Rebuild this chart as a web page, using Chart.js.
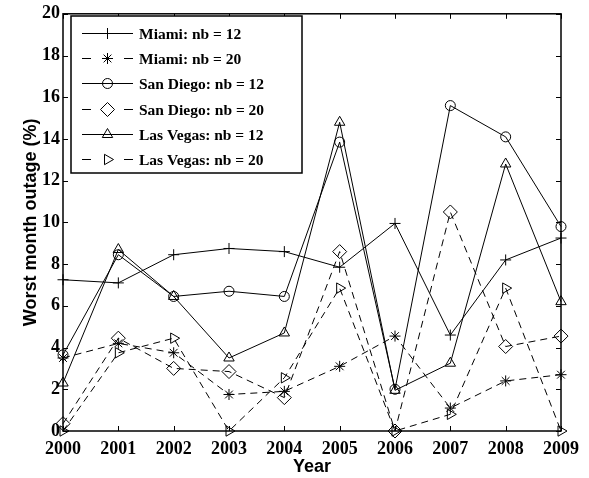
<!DOCTYPE html>
<html>
<head>
  <title>Worst month outage</title>
  <script src="https://cdn.jsdelivr.net/npm/chart.js"></script>
  <style>
    body { margin: 0; background: #fff; }
    #wrap { width: 589px; height: 478px; }
  </style>
</head>
<body>
<div id="wrap">
  <canvas id="outageChart" width="589" height="478"></canvas>
</div>

<script>
  // Data
  const years = ['2000', '2001', '2002', '2003', '2004', '2005', '2006', '2007', '2008', '2009'];
  const miami12 = [7.25, 7.1, 8.45, 8.75, 8.6, 7.85, 9.95, 4.6, 8.2, 9.25];
  const miami20 = [3.5, 4.2, 3.75, 1.75, 1.9, 3.1, 4.55, 1.1, 2.4, 2.7];
  const sanDiego12 = [3.65, 8.45, 6.45, 6.7, 6.45, 13.85, 2.0, 15.6, 14.1, 9.8];
  const sanDiego20 = [0.35, 4.45, 3.0, 2.85, 1.6, 8.6, 0, 10.5, 4.05, 4.55];
  const lasVegas12 = [2.3, 8.7, 6.45, 3.5, 4.7, 14.8, 1.95, 3.25, 12.8, 6.2];
  const lasVegas20 = [0, 3.75, 4.45, 0, 2.55, 6.85, 0, 0.8, 6.85, 0];
  const yTicks = [0, 2, 4, 6, 8, 10, 12, 14, 16, 18, 20];

  const serif = "'Liberation Serif', 'Times New Roman', serif";
  const sans = "'Liberation Sans', Arial, sans-serif";

  function series(label, data, style, radius, dashed, rotation) {
    return {
      label: label,
      data: data,
      borderColor: '#000',
      borderWidth: 1,
      borderDash: dashed ? [7, 5] : [],
      pointStyle: style,
      pointRotation: rotation || 0,
      pointRadius: radius,
      pointBorderColor: '#000',
      pointBackgroundColor: 'rgba(0,0,0,0)',
      pointBorderWidth: 1,
      fill: false,
      tension: 0,
      clip: false
    };
  }

  // inward ticks on all four sides + box, MATLAB style
  const boxPlugin = {
    id: 'boxTicks',
    afterDatasetsDraw(chart) {
      const ctx = chart.ctx;
      const a = chart.chartArea;
      const xs = chart.scales.x;
      const ys = chart.scales.y;
      const len = 5;
      ctx.save();
      ctx.strokeStyle = '#000';
      ctx.lineWidth = 1;
      ctx.beginPath();
      years.forEach((y, i) => {
        const px = Math.round(xs.getPixelForValue(i)) + 0.5;
        ctx.moveTo(px, a.bottom); ctx.lineTo(px, a.bottom - len);
        ctx.moveTo(px, a.top); ctx.lineTo(px, a.top + len);
      });
      yTicks.forEach(v => {
        const py = Math.round(ys.getPixelForValue(v)) + 0.5;
        ctx.moveTo(a.left, py); ctx.lineTo(a.left + len, py);
        ctx.moveTo(a.right, py); ctx.lineTo(a.right - len, py);
      });
      ctx.stroke();
      ctx.lineWidth = 1.5;
      ctx.strokeRect(a.left, a.top, a.right - a.left, a.bottom - a.top);
      ctx.restore();
    }
  };

  // boxed legend with line sample and marker
  const legendPlugin = {
    id: 'boxLegend',
    afterDraw(chart) {
      const ctx = chart.ctx;
      const sets = chart.data.datasets;
      const bx = 71, by = 16, bw = 231, bh = 157;
      ctx.save();
      ctx.fillStyle = '#fff';
      ctx.fillRect(bx, by, bw, bh);
      ctx.strokeStyle = '#000';
      ctx.lineWidth = 1.5;
      ctx.strokeRect(bx, by, bw, bh);
      ctx.font = 'bold 15.5px ' + serif;
      ctx.textBaseline = 'middle';
      sets.forEach((ds, i) => {
        const cy = Math.round(32.7 + 25.3 * i) + 0.5;
        const x0 = 82, x1 = 133, xm = (x0 + x1) / 2;
        ctx.strokeStyle = '#000';
        ctx.lineWidth = 1;
        ctx.beginPath();
        if (ds.borderDash.length) {
          ctx.moveTo(x0, cy); ctx.lineTo(x0 + 9, cy);
          ctx.moveTo(x1 - 9, cy); ctx.lineTo(x1, cy);
        } else {
          ctx.moveTo(x0, cy); ctx.lineTo(x1, cy);
        }
        ctx.stroke();
        ctx.fillStyle = 'rgba(0,0,0,0)';
        Chart.helpers.drawPoint(ctx, {
          pointStyle: ds.pointStyle,
          rotation: ds.pointRotation,
          radius: ds.pointRadius,
          borderWidth: 1
        }, xm, cy);
        ctx.fillStyle = '#000';
        ctx.fillText(ds.label, 139, cy + 1);
      });
      ctx.restore();
    }
  };

  const ctx = document.getElementById('outageChart').getContext('2d');
  new Chart(ctx, {
    type: 'line',
    data: {
      labels: years,
      datasets: [
        series('Miami: nb = 12', miami12, 'cross', 5.5, false),
        series('Miami: nb = 20', miami20, 'star', 5.5, true),
        series('San Diego: nb = 12', sanDiego12, 'circle', 5, false),
        series('San Diego: nb = 20', sanDiego20, 'rectRot', 7, true),
        series('Las Vegas: nb = 12', lasVegas12, 'triangle', 6, false),
        series('Las Vegas: nb = 20', lasVegas20, 'triangle', 6, true, 90)
      ]
    },
    options: {
      responsive: false,
      animation: false,
      devicePixelRatio: 1,
      layout: { padding: { left: 0, top: 13, right: 28, bottom: 0 } },
      plugins: {
        legend: { display: false },
        tooltip: { enabled: false }
      },
      scales: {
        x: {
          type: 'category',
          offset: false,
          grid: { display: false, drawTicks: false },
          border: { display: false },
          ticks: {
            color: '#000',
            padding: 8,
            maxRotation: 0,
            autoSkip: false,
            font: { family: serif, size: 18, weight: 'bold' }
          },
          title: {
            display: true,
            text: 'Year',
            color: '#000',
            padding: { top: 0, bottom: 0 },
            font: { family: sans, size: 18, weight: 'bold' }
          },
          afterFit(scale) { scale.height = 47; }
        },
        y: {
          min: 0,
          max: 20,
          grid: { display: false, drawTicks: false },
          border: { display: false },
          ticks: {
            stepSize: 2,
            color: '#000',
            padding: 3,
            font: { family: serif, size: 18, weight: 'bold' }
          },
          title: {
            display: true,
            text: 'Worst month outage (%)',
            color: '#000',
            padding: { top: 20, bottom: 0 },
            font: { family: sans, size: 18, weight: 'bold' }
          },
          afterFit(scale) { scale.width = 63; }
        }
      }
    },
    plugins: [boxPlugin, legendPlugin]
  });
</script>
</body>
</html>
